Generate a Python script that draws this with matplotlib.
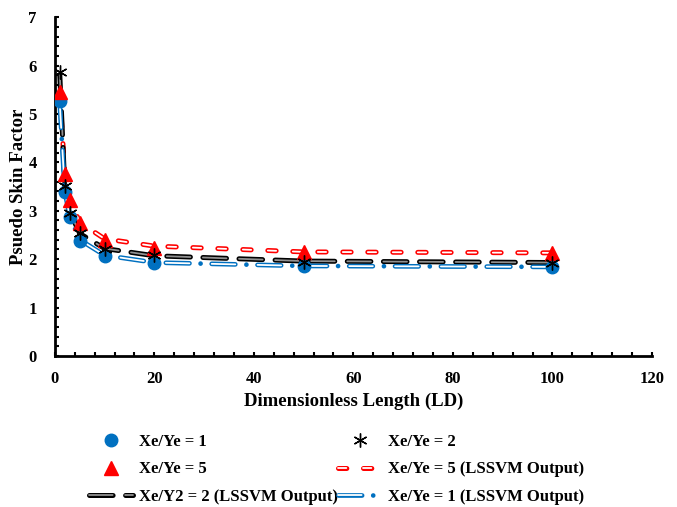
import numpy as np
import matplotlib
matplotlib.use('Agg')
import matplotlib.pyplot as plt
from matplotlib.ticker import MultipleLocator
import matplotlib.patheffects as pe

plt.rcParams['font.family'] = ['Liberation Serif', 'DejaVu Serif']
plt.rcParams['font.weight'] = 'bold'
plt.rcParams['lines.scale_dashes'] = False

# data
ld = [1, 2, 3, 5, 10, 20, 50, 100]
skin_r1 = [5.27, 3.38, 2.87, 2.37, 2.06, 1.93, 1.86, 1.84]
skin_r2 = [5.87, 3.52, 2.96, 2.55, 2.22, 2.08, 1.95, 1.92]
skin_r5 = [5.46, 3.76, 3.23, 2.75, 2.40, 2.24, 2.14, 2.12]
lssvm_r1 = [5.20, 3.40, 2.88, 2.40, 2.08, 1.93, 1.86, 1.84]
lssvm_r2 = [5.80, 3.50, 2.98, 2.53, 2.22, 2.07, 1.96, 1.93]
lssvm_r5 = [5.42, 3.78, 3.25, 2.76, 2.42, 2.27, 2.15, 2.13]

blue = '#0070C0'
red = '#FF0000'

fig = plt.figure(figsize=(6.77, 5.07), dpi=100)
ax = fig.add_axes([0.081, 0.298, 0.882, 0.668])


def double_line(x, y, color, inner, dashes, label):
    line, = ax.plot(x, y, color=inner, lw=1.3, dashes=dashes,
                    dash_capstyle='round', label=label, zorder=2,
                    path_effects=[pe.Stroke(linewidth=3.6, foreground=color), pe.Normal()])
    return line


h_l5 = double_line(ld, lssvm_r5, red, 'white', (6, 12), 'Xe/Ye = 5 (LSSVM Output)')
h_l2 = double_line(ld, lssvm_r2, 'black', '#909090', (17, 9), 'Xe/Y2 = 2 (LSSVM Output)')

# blue dash-dot: outlined dashes, solid dots
b_out, = ax.plot(ld, lssvm_r1, color=blue, lw=3.4, dashes=(17, 8, 0.01, 8),
                 dash_capstyle='round', zorder=2)
b_in, = ax.plot(ld, lssvm_r1, color='white', lw=1.3, dashes=(17, 16.01),
                dash_capstyle='round', zorder=2)
h_l1 = (b_out, b_in)

h1, = ax.plot(ld, skin_r1, 'o', color=blue, ms=9, ls='none', label='Xe/Ye = 1', zorder=3)
h5, = ax.plot(ld, skin_r5, '^', color=red, ms=10, ls='none', label='Xe/Ye = 5', zorder=4)
h2, = ax.plot(ld, skin_r2, marker=(6, 2, 0), color='black', ms=10, mew=1.0, ls='none',
              label='Xe/Ye = 2', zorder=5)

ax.set_xlim(0, 120)
ax.set_ylim(0, 7)
ax.xaxis.set_major_locator(MultipleLocator(20))
ax.xaxis.set_minor_locator(MultipleLocator(4))
ax.yaxis.set_major_locator(MultipleLocator(1))
ax.yaxis.set_minor_locator(MultipleLocator(0.2))
ax.tick_params(which='both', direction='in', length=3, width=1.5, labelsize=12)
ax.tick_params(axis='x', pad=11)
ax.tick_params(axis='y', pad=13)
ax.spines['top'].set_visible(False)
ax.spines['right'].set_visible(False)
for s in ['left', 'bottom']:
    ax.spines[s].set_linewidth(2)

ax.set_xlabel('Dimensionless Length (LD)', fontsize=13.5, fontweight='bold', labelpad=4)
ax.set_ylabel('Psuedo Skin Factor', fontsize=13.5, fontweight='bold', labelpad=1)

handles = [h1, h5, h_l2, h2, h_l5, h_l1]
labels = ['Xe/Ye = 1', 'Xe/Ye = 5', 'Xe/Y2 = 2 (LSSVM Output)',
          'Xe/Ye = 2', 'Xe/Ye = 5 (LSSVM Output)', 'Xe/Ye = 1 (LSSVM Output)']
fig.legend(handles=handles, labels=labels, ncol=2,
           loc='upper left', bbox_to_anchor=(0.122, 0.157), frameon=False,
           prop={'size': 12, 'weight': 'bold'}, handlelength=2.6, handletextpad=0.4,
           columnspacing=0.0, labelspacing=0.68, borderaxespad=0)

fig.savefig('out.png', dpi=100)
